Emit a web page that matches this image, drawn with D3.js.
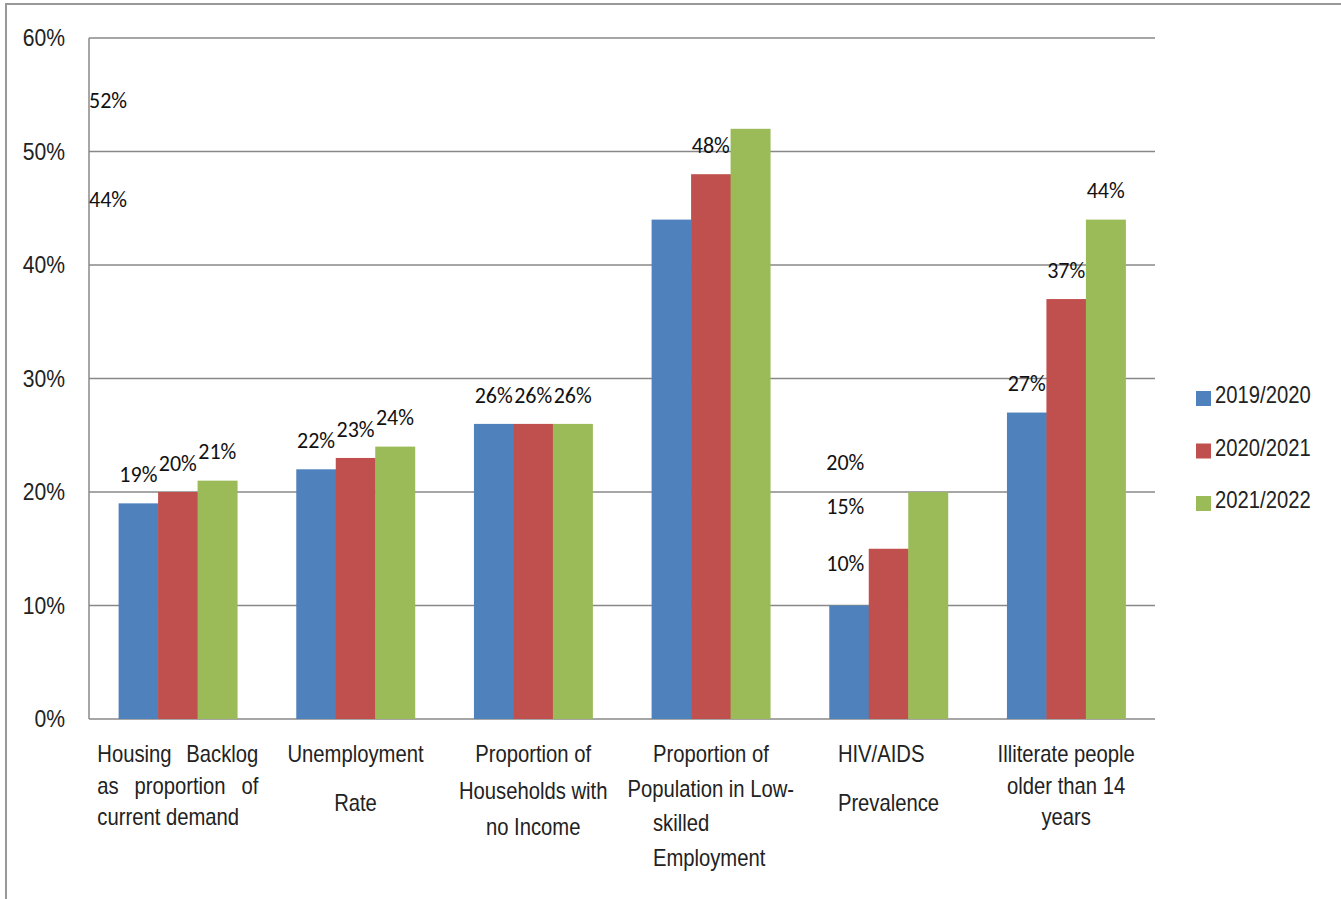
<!DOCTYPE html>
<html>
<head>
<meta charset="utf-8">
<script src="https://cdn.jsdelivr.net/npm/d3@7"></script>
<style>
body{margin:0;background:#fff}
svg{display:block}
.narrow{font-family:"Liberation Sans",Arial,sans-serif;fill:#222}
.val{font-family:Carlito,Lato,"Open Sans",sans-serif;font-size:22px;fill:#111}
</style>
</head>
<body>
<svg width="1341" height="899"></svg>
<script>
// chart data
const categories=["Housing Backlog as proportion of current demand","Unemployment Rate","Proportion of Households with no Income","Proportion of Population in Low-skilled Employment","HIV/AIDS Prevalence","Illiterate people older than 14 years"]
const categoryLines=[
    ["Housing Backlog","as proportion of","current demand"],
    ["Unemployment","Rate"],
    ["Proportion of","Households with","no Income"],
    ["Proportion of","Population in Low-","skilled","Employment"],
    ["HIV/AIDS","Prevalence"],
    ["Illiterate people","older than 14","years"]
]
const series=["2019/2020","2020/2021","2021/2022"]
const v2019=[19,22,26,44,10,27]
const v2020=[20,23,26,48,15,37]
const v2021=[21,24,26,52,20,44]
const yTicks=[0,10,20,30,40,50,60]
const colors=["#4f81bd","#c0504d","#9bbb59"]

// layout
const lineGap=[31.5,49,36.5,34.5,49,31.5]
const margin={top:38,left:89},width=1066,height=681
const squeeze=0.88   // fake "Arial Narrow"

const svg=d3.select("svg")
svg.append("path").attr("d","M6,899V4H1341").attr("fill","none").attr("stroke","#999").attr("stroke-width",2)

const g=svg.append("g").attr("transform",`translate(${margin.left},${margin.top})`)

function narrowText(parent,tx,ty,str,size,anchor){
    const h=parent.append("g").attr("transform",`translate(${tx},${ty}) scale(${squeeze},1)`)
    return h.append("text").attr("class","narrow").style("font-size",size+"px")
      .attr("text-anchor",anchor||"start").text(str)
}

const x=d3.scaleBand().domain(categories).range([0,width]).paddingInner(1/3).paddingOuter(1/6)
const xs=d3.scaleBand().domain(series).range([0,x.bandwidth()])
const y=d3.scaleLinear().domain([0,60]).range([height,0])

// grid
g.selectAll(".grid").data(yTicks).enter().append("line")
 .attr("x1",0).attr("x2",width)
 .attr("y1",d=>y(d)).attr("y2",d=>y(d))
 .attr("stroke","#888").attr("stroke-width",1.5)
g.append("line").attr("x1",0).attr("x2",0).attr("y1",0).attr("y2",height).attr("stroke","#888").attr("stroke-width",1.5)

// y labels
yTicks.forEach(t=>{
    narrowText(g,-24,y(t)+8,t+"%",24,"end")
})

const rows=categories.map((c,i)=>({cat:c,i,vals:[v2019[i],v2020[i],v2021[i]]}))

const grp=g.selectAll(".grp").data(rows).enter().append("g")
 .attr("transform",d=>`translate(${x(d.cat)},0)`)

grp.selectAll("rect").data(d=>d.vals.map((v,k)=>({v,k,s:series[k]}))).enter().append("rect")
 .attr("x",d=>xs(d.s)).attr("width",xs.bandwidth()+0.5)
 .attr("y",d=>y(d.v)).attr("height",d=>height-y(d.v))
 .attr("fill",d=>colors[d.k])

// value labels (some sit away from their bars, as in the source picture)
rows.forEach(r=>{
    r.vals.forEach((v,k)=>{
        let tx=x(r.cat)+xs(series[k])+xs.bandwidth()/2, ty=y(v)-29, anchor="middle"
        if(r.i==3 && k!=1){tx=0;ty=y(v)-(k==2?29:20);anchor="start"}
        if(r.i==4){tx=x(r.cat)-3;ty=y(v)-(k==2?30:42);anchor="start"}
        g.append("text").attr("class","val")
         .attr("x",tx).attr("y",ty).attr("dy","0.35em")
         .attr("text-anchor",anchor).text(v+"%")
    })
})

// category labels
const measure=(str)=>{
    const t=narrowText(g,0,-500,str,23)
    const w=t.node().getComputedTextLength()*squeeze
    t.node().parentNode.remove()
    return w
}
rows.forEach(r=>{
    const cx=x(r.cat)+x.bandwidth()/2
    const lines=categoryLines[r.i]
    lines.forEach((line,j)=>{
        const ly=height+43+j*lineGap[r.i]
        if(r.i==0){
            const w=161,left=cx-w/2
            if(j<2){
                const words=line.split(" ")
                const t=narrowText(g,left,ly,"",23)
                const spans=words.map(wd=>t.append("tspan").text(wd))
                const lens=spans.map(s=>s.node().getComputedTextLength())
                const gap=(w/squeeze-d3.sum(lens))/(words.length-1)
                let px=0
                spans.forEach((s,k)=>{s.attr("x",px);px+=lens[k]+gap})
            } else narrowText(g,left,ly,line,23)
        } else if(r.i==3 && j!=1){
            narrowText(g,cx-measure(lines[0])/2,ly,line,23)
        } else if(r.i==4){
            narrowText(g,cx-d3.max(lines,measure)/2,ly,line,23)
        } else {
            narrowText(g,cx,ly,line,23,"middle")
        }
    })
})

// legend
const leg=svg.append("g").attr("transform","translate(1196,391)")
series.forEach((s,k)=>{
    const row=leg.append("g").attr("transform",`translate(0,${k*52.5})`)
    row.append("rect").attr("width",15).attr("height",15).attr("fill",colors[k])
    narrowText(row,19,12,s,23)
})
</script>
</body>
</html>
